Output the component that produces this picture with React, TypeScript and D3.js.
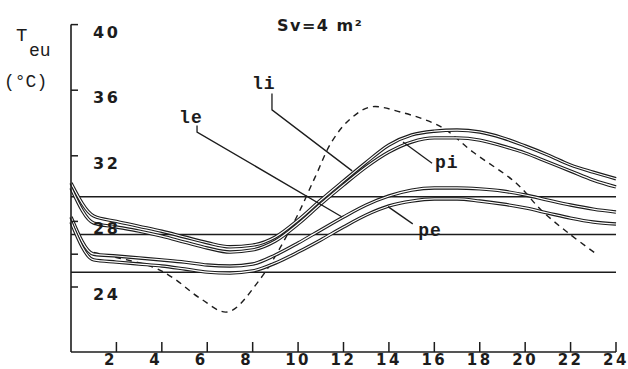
import React from "react";
import * as d3 from "d3";

const hours = [0,1,2,3,4,5,6,7,8,9,10,11,12,13,14,15,16,17,18,19,20,21,22,23,24];
const li = [30.34,28.33,28.0,27.7,27.4,27.05,26.7,26.45,26.55,27.05,28.08,29.3,30.46,31.6,32.66,33.27,33.5,33.57,33.45,33.1,32.6,32.05,31.44,31.0,30.6];
const pi = [30.04,27.9,27.66,27.41,27.1,26.74,26.38,26.13,26.26,26.8,27.84,29.06,30.22,31.32,32.23,32.84,33.09,33.09,32.96,32.6,32.17,31.62,31.07,30.52,30.1];
const le = [28.27,26.0,25.89,25.77,25.65,25.52,25.34,25.28,25.4,25.95,26.68,27.48,28.27,29.0,29.55,29.91,30.04,30.04,29.98,29.85,29.61,29.3,29.0,28.75,28.57];
const pe = [27.96,25.65,25.52,25.4,25.28,25.1,24.91,24.85,24.98,25.46,26.13,26.87,27.66,28.39,28.94,29.24,29.37,29.37,29.24,29.06,28.82,28.51,28.2,27.96,27.84];

const outdoorHours = [1,2,3.6,4.5,5.7,6.9,8.3,9.8,10.75,11.5,12.3,13.2,14.5,16.3,17.7,19.6,20.7,21.9,23.2];
const outdoor = [26.1,25.8,25.22,24.55,23.3,22.48,24.43,27.9,30.7,32.9,34.25,34.98,34.67,33.76,32.23,30.34,28.7,27.29,25.95];

const refLevels = [29.5, 27.2, 24.9];

const yTicks = [24, 28, 32, 36, 40];
const yMinorTicks = [26];
const xTicks = [2,4,6,8,10,12,14,16,18,20,22,24];

const labels = [
  { text: "li", lx: 7.97, ly: 36.07, start: [8.85, 35.8], elbow: [8.85, 34.8], target: [12.38, 31.08] },
  { text: "le", lx: 4.76, ly: 34.0, start: [5.55, 33.85], elbow: [5.55, 33.45], target: [11.94, 28.27] },
  { text: "pi", lx: 16.03, ly: 31.26, start: [15.9, 31.55], elbow: null, target: [14.62, 32.84] },
  { text: "pe", lx: 15.29, ly: 27.1, start: [15.05, 27.85], elbow: null, target: [13.96, 28.9] },
];

const W = 628, H = 369;
const x = d3.scaleLinear().domain([0, 24]).range([71, 616]);
const y = d3.scaleLinear().domain([24, 40]).range([287, 24.6]);
const axisY = 352;
const ink = "#1c1c1c";

export default function App() {
  const line = d3.line<number>().x((_, i) => x(hours[i])).y((d) => y(d)).curve(d3.curveMonotoneX);
  const dline = d3.line<number>().x((_, i) => x(outdoorHours[i])).y((d) => y(d)).curve(d3.curveCatmullRom);
  const series = [li, pi, le, pe];
  const numFont = { fontFamily: "'DejaVu Sans', sans-serif", fontWeight: 700, fontSize: 16, letterSpacing: 2.5 } as const;
  const labFont = { fontFamily: "'Liberation Mono', 'Courier New', monospace", fontWeight: 700, fontSize: 18, letterSpacing: 1 } as const;
  const serifMono = { fontFamily: "'Liberation Mono', 'Courier New', monospace" } as const;
  return (
    <svg width={W} height={H} style={{ position: "absolute", left: 0, top: 0, background: "#fff" }}>
      <rect width={W} height={H} fill="#fff" />
      {refLevels.map((v, i) => (
        <line key={"r" + i} x1={x(0)} x2={x(24)} y1={y(v)} y2={y(v)} stroke={ink} strokeWidth={1.6} />
      ))}
      <path d={dline(outdoor) || ""} fill="none" stroke={ink} strokeWidth={1.4} strokeDasharray="6,5" />
      {series.map((s, i) => (
        <g key={"s" + i}>
          <path d={line(s) || ""} fill="none" stroke={ink} strokeWidth={3.4} />
          <path d={line(s) || ""} fill="none" stroke="#fff" strokeWidth={1.2} />
        </g>
      ))}
      {labels.map((l, i) => {
        const pts: [number, number][] = [[x(l.start[0]), y(l.start[1])]];
        if (l.elbow) pts.push([x(l.elbow[0]), y(l.elbow[1])]);
        pts.push([x(l.target[0]), y(l.target[1])]);
        return <path key={"ld" + i} d={d3.line()(pts) || ""} fill="none" stroke={ink} strokeWidth={1.3} />;
      })}
      {labels.map((l, i) => (
        <text key={"lt" + i} x={x(l.lx)} y={y(l.ly)} fill={ink} style={labFont}>{l.text}</text>
      ))}
      <line x1={x(0)} x2={x(0)} y1={y(40)} y2={axisY} stroke={ink} strokeWidth={1.6} />
      <line x1={x(0)} x2={x(24)} y1={axisY} y2={axisY} stroke={ink} strokeWidth={1.6} />
      {[...yTicks, ...yMinorTicks].map((t) => (
        <line key={"yt" + t} x1={x(0)} x2={x(0) + 7} y1={y(t)} y2={y(t)} stroke={ink} strokeWidth={1.5} />
      ))}
      {yTicks.map((t) => (
        <text key={"yl" + t} x={x(0) + 22} y={y(t) + 13} fill={ink} style={numFont}>{t}</text>
      ))}
      {xTicks.map((t) => (
        <line key={"xt" + t} x1={x(t)} x2={x(t)} y1={axisY} y2={axisY - 10} stroke={ink} strokeWidth={1.5} />
      ))}
      {xTicks.map((t) => (
        <text key={"xl" + t} x={x(t) + (t < 10 ? -6 : 0)} y={365} textAnchor="middle" fill={ink} style={{ ...numFont, fontSize: 15 }}>{t}</text>
      ))}
      <text x={277} y={31} fill={ink} style={{ ...numFont, letterSpacing: 1.5 }}>Sv=4 m²</text>
      <text x={16} y={41} fill={ink} style={{ ...serifMono, fontSize: 19 }}>T</text>
      <text x={29} y={56} fill={ink} style={{ ...serifMono, fontSize: 18 }}>eu</text>
      <text x={4} y={87} fill={ink} style={{ ...serifMono, fontSize: 18 }}>(°C)</text>
    </svg>
  );
}
